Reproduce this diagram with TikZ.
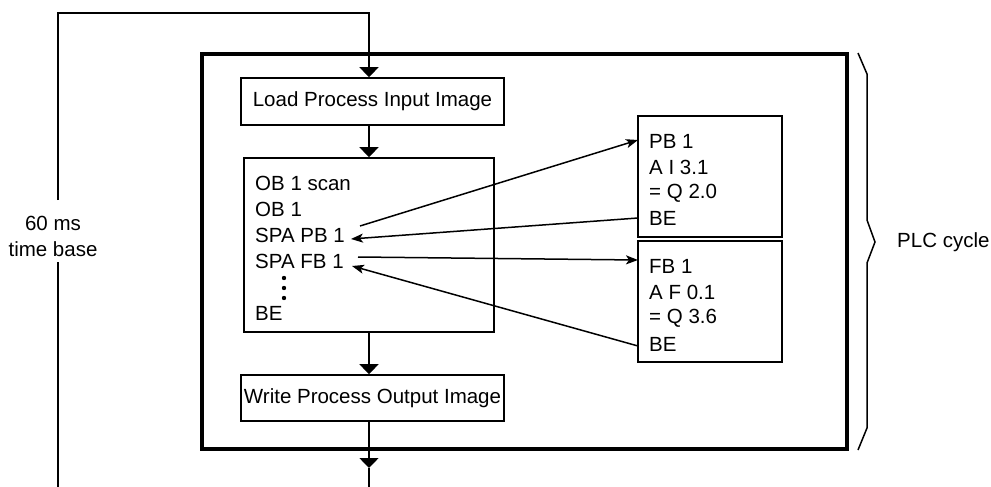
\documentclass[tikz,border=0pt]{standalone}
\usepackage{fontspec}
\setmainfont{Liberation Sans}
\usetikzlibrary{arrows.meta}
\begin{document}
\begin{tikzpicture}[x=1pt,y=-1pt,
  thin line/.style={line width=1.6pt},
  box/.style={draw,line width=1.6pt,inner sep=0pt},
  txt/.style={inner sep=0pt,font=\fontsize{20.5}{26}\selectfont},
  flow/.style={thin line,-{Triangle[width=19pt,length=10pt]}},
  call/.style={line width=1.5pt,-{Stealth[length=12pt,width=9pt,inset=3pt]}}]
\useasboundingbox (0,0) rectangle (991,487);
% frame
\node[draw,line width=4pt,minimum width=645pt,minimum height=395pt,inner sep=0pt] (frame) at (524.5,251.5) {};
% boxes
\node[box,minimum width=263pt,minimum height=47pt] (load) at (372.5,101.5) {};
\node[txt] (loadt) at (372.5,101.5) {Load Process Input Image};
\node[box,minimum width=250pt,minimum height=174pt] (ob) at (369,245) {};
\node[box,minimum width=263pt,minimum height=46pt] (write) at (372.5,398) {};
\node[txt] (writet) at (372.5,398) {Write Process Output Image};
\node[box,minimum width=144pt,minimum height=121pt] (pb) at (710,176.5) {};
\node[box,minimum width=144pt,minimum height=121pt] (fb) at (710,301.5) {};
% OB text
\node[txt,anchor=west] (o1) at (255,183) {OB 1 scan};
\node[txt,anchor=west] (o2) at (255,209) {OB 1};
\node[txt,anchor=west] (o3) at (255,235) {SPA PB 1};
\node[txt,anchor=west] (o4) at (255,261) {SPA FB 1};
\node[txt,anchor=west] (o5) at (255,313) {BE};
\fill (284,278) circle (2.2pt) (284,288) circle (2.2pt) (284,298) circle (2.2pt);
% PB text
\node[txt,anchor=west] (p1) at (649,141) {PB 1};
\node[txt,anchor=west] (p2) at (649,167) {A I 3.1};
\node[txt,anchor=west] (p3) at (649,193) {= Q 2.0};
\node[txt,anchor=west] (p4) at (649,218) {BE};
% FB text
\node[txt,anchor=west] (f1) at (649,266) {FB 1};
\node[txt,anchor=west] (f2) at (649,292) {A F 0.1};
\node[txt,anchor=west] (f3) at (649,318) {= Q 3.6};
\node[txt,anchor=west] (f4) at (649,344) {BE};
% labels
\node[txt,align=center] (tb) at (53,236) {60 ms\\time base};
\node[txt,anchor=west] (plc) at (897,242) {PLC cycle};
% coordinates
\coordinate (axis) at (369,0);
\coordinate (botL) at (58,487);
\coordinate (gapB) at (58,262);
\coordinate (gapT) at (58,200);
\coordinate (topL) at (58,13);
\coordinate (topR) at (369,13);
\coordinate (tipB) at (369,468);
\coordinate (botR) at (369,487);
\coordinate (a1s) at (360,226);
\coordinate (a1e) at (638,140);
\coordinate (a2s) at (638,218);
\coordinate (a2e) at (351,239);
\coordinate (a3s) at (358,257);
\coordinate (a3e) at (638,260);
\coordinate (a4s) at (638,346);
\coordinate (a4e) at (352,266);
% loop line
\draw[thin line] (botL) -- (gapB);
\draw[flow] (gapT) -- (topL) -- (topR) -- (load.north -| axis);
\draw[flow] (load.south -| axis) -- (ob.north -| axis);
\draw[flow] (ob.south -| axis) -- (write.north -| axis);
\draw[flow] (write.south -| axis) -- (tipB);
\draw[thin line] (tipB) -- (botR);
% calls
\draw[call] (a1s) -- (a1e);
\draw[call] (a2s) -- (a2e);
\draw[call] (a3s) -- (a3e);
\draw[call] (a4s) -- (a4e);
% brace
\draw[line width=1.5pt] (858,53) -- (867,74) -- (867,220) -- (875,242) -- (867,263) -- (867,428) -- (858,450);
\end{tikzpicture}
\end{document}
